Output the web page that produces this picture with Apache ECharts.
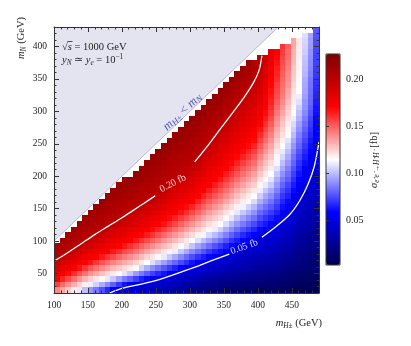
<!DOCTYPE html>
<html>
<head>
<meta charset="utf-8">
<script src="https://cdn.jsdelivr.net/npm/echarts@6/dist/echarts.min.js"></script>
<style>
  html, body { margin: 0; padding: 0; background: #fff; }
  #chart { width: 411px; height: 346px; }
</style>
</head>
<body>
<div id="chart"></div>
<script>
// scan grid: m_H+ 100..490 GeV in 47 columns, m_N 20..430 GeV in 48 rows
const mHMin = 100, mHMax = 490, mHCells = 47
const mNMin = 20, mNMax = 430, mNCells = 48

// sigma(e+e- -> H+H-) in 1e-3 fb, one list per m_H+ column, lowest m_N row first
const sigmaByColumn = [
  [142,157,171,179,187,195,202,205,209],
  [134,148,163,174,182,190,198,203,207,210],
  [126,140,155,169,177,185,193,200,204,208,211],
  [119,133,147,161,173,181,188,196,202,205,209,212],
  [110,125,139,153,167,176,183,191,199,203,206,209,213],
  [101,118,132,146,159,171,179,186,194,201,204,207,210,214],
  [92,111,126,139,152,166,175,182,189,196,202,205,208,211,214],
  [85,105,121,134,146,159,171,178,185,192,199,203,206,209,212,215],
  [77,97,117,129,141,153,166,174,181,188,195,201,203,206,209,212,215],
  [68,89,110,124,136,148,160,171,177,184,190,197,201,204,207,210,212,215],
  [59,80,103,120,131,143,155,166,174,180,187,193,199,202,205,208,210,213,215],
  [49,71,94,116,127,138,149,161,171,177,183,189,195,201,203,206,208,211,214,216],
  [47,63,86,109,123,134,144,155,166,174,180,186,192,197,201,204,206,209,211,214,216],
  [45,57,80,102,119,130,140,151,161,171,177,182,188,194,199,202,205,208,211,213,216],
  [44,52,73,93,114,125,135,145,155,166,173,179,185,190,196,201,203,206,209,211,214,216],
  [42,49,66,86,105,120,130,140,150,160,170,176,181,187,192,198,201,204,206,209,212,214,216],
  [40,47,61,79,97,115,125,135,145,155,165,173,178,183,189,194,200,202,205,207,209,212,214,217],
  [39,46,56,73,90,108,121,130,140,150,160,169,175,180,186,191,196,201,203,205,208,210,212,214,217],
  [37,44,52,68,84,101,116,126,135,145,154,164,172,177,182,187,192,197,201,203,206,208,210,212,215,217],
  [35,42,49,63,78,94,110,121,130,139,148,158,167,173,178,183,188,193,198,201,204,206,208,210,212,215,217],
  [32,39,46,57,72,87,103,117,126,134,143,152,161,169,175,179,184,189,194,199,202,204,206,208,210,212,215,217],
  [30,37,44,51,66,81,96,111,121,130,138,147,156,164,171,176,181,185,190,195,200,202,204,206,208,210,213,215,217],
  [28,34,41,48,60,75,89,103,116,125,133,142,150,158,167,173,177,182,186,191,196,200,202,204,206,208,211,213,215,217],
  [25,32,39,46,55,69,82,96,109,120,128,136,144,153,161,169,174,178,183,187,192,196,200,202,204,207,209,211,213,215,217],
  [23,30,36,43,50,63,76,89,102,115,123,131,139,147,155,163,171,175,179,184,188,192,197,201,203,205,207,209,211,213,215,217],
  [20,27,34,41,47,58,70,83,95,108,118,126,133,141,149,156,164,171,175,179,183,187,192,196,200,202,204,206,208,211,213,215,217],
  [18,24,31,38,45,53,65,77,89,101,113,121,128,135,143,150,157,164,171,175,179,183,187,191,195,199,201,204,206,208,210,212,215,217],
  [17,23,30,36,43,49,60,71,83,95,106,117,123,130,137,144,151,158,165,171,175,179,182,186,190,194,197,201,203,205,208,210,212,214,217],
  [16,22,28,35,41,47,55,66,77,89,100,111,119,126,132,139,145,152,159,165,171,175,178,182,186,189,193,196,200,202,205,207,209,212,214,217],
  [15,21,27,33,38,44,51,62,72,83,94,105,115,122,128,134,141,147,153,159,166,171,175,178,182,185,188,192,195,199,202,204,207,209,212,214,217],
  [15,20,26,31,37,43,48,56,66,77,87,97,107,116,122,128,135,141,147,153,159,165,171,174,177,181,184,188,191,194,198,201,203,206,209,211,214,216],
  [14,19,24,30,35,40,45,51,61,70,80,90,99,109,117,123,129,135,141,147,153,159,165,170,174,177,180,183,187,190,193,196,200,202,205,208,210,213,215],
  [13,18,23,28,33,38,43,48,56,65,74,83,92,101,110,118,124,129,135,141,147,153,159,164,170,173,176,180,183,186,189,192,195,199,202,204,207,210,213,215],
  [12,17,22,27,32,36,41,46,51,60,68,77,86,94,103,112,119,124,130,136,141,147,152,158,164,169,173,176,179,182,185,188,191,194,197,200,203,206,209,211,214],
  [12,17,21,26,30,35,39,44,48,55,63,72,80,88,97,105,114,119,125,130,136,141,147,152,158,163,169,172,175,178,181,184,187,190,193,196,199,202,205,208,211,214],
  [11,16,20,24,29,33,37,42,46,51,59,67,75,83,91,99,107,115,120,126,131,136,142,147,152,158,163,169,172,175,178,181,184,187,190,192,195,198,201,202,204,206],
  [11,15,19,23,27,32,36,40,44,48,54,61,68,75,82,89,97,104,111,117,122,127,132,137,142,147,152,157,162,167,171,174,176,179,182,184,187,190,193,195,198,200,202],
  [11,15,19,23,27,31,35,38,42,46,50,57,64,70,77,83,90,96,103,110,116,120,125,129,133,138,142,147,151,156,160,165,169,172,174,176,179,181,184,186,188,191,193],
  [10,14,18,21,25,29,33,37,41,45,48,53,60,66,72,78,84,90,96,103,109,115,119,123,127,131,135,139,143,147,151,155,159,161,164,166,168,170,172,174,176,178,180,182],
  [10,14,17,21,25,28,32,36,39,43,47,50,55,61,66,71,76,81,87,92,97,102,108,113,117,120,124,127,131,134,138,141,145,148,151,154,156,158,161,163,165,167,170,172],
  [9,12,15,18,22,25,28,31,35,38,41,44,48,52,57,62,67,71,76,81,86,91,96,101,106,110,115,118,122,125,128,131,135,138,141,144,146,147,149,151,153,154,156,158,160],
  [8,11,14,17,20,23,27,30,33,36,39,42,46,49,53,57,61,66,70,74,79,83,87,92,96,100,105,109,114,117,119,122,125,127,130,133,135,138,140,141,143,145,147,148,150],
  [7,10,13,16,19,22,24,27,30,33,36,38,41,44,47,50,54,57,61,65,69,73,77,81,84,88,92,96,100,104,107,111,115,117,119,120,122,124,126,127,128,130,131,132,134,135],
  [6,9,11,14,17,19,22,24,27,29,32,34,37,40,42,45,47,50,53,57,60,63,67,70,74,77,81,84,87,91,94,98,101,104,108,111,115,116,116,117,118,118,119,119,120,120],
  [6,8,11,13,15,18,20,22,25,27,29,32,34,36,38,41,43,45,48,50,53,56,59,62,65,68,71,74,77,80,83,86,89,91,92,94,95,96,97,99,100,101,102,104,105,106,108],
  [5,7,9,11,14,16,18,20,22,24,26,29,31,33,35,37,39,41,44,46,48,50,52,55,57,60,62,64,67,69,72,74,77,79,81,82,83,84,85,87,88,89,90,91,93,94,95],
  [5,7,9,10,12,14,16,18,20,21,23,25,27,29,30,32,34,36,38,40,41,43,45,47,49,51,52,54,55,57,59,60,62,63,65,67,68,69,70,71,72,73,73,74,75,76,77,78]
]

// colour scale limits of the colour bar (fb)
const sigmaMin = 0.003, sigmaMax = 0.227

// tick values
const xMajorTicks = [100, 150, 200, 250, 300, 350, 400, 450]
const xMinorTicks = [110,120,130,140,160,170,180,190,210,220,230,240,260,270,280,290,310,320,330,340,360,370,380,390,410,420,430,440,460,470,480]
const yMajorTicks = [50, 100, 150, 200, 250, 300, 350, 400]
const yMinorTicks = [30,40,60,70,80,90,110,120,130,140,160,170,180,190,210,220,230,240,260,270,280,290,310,320,330,340,360,370,380,390,410,420]
const cbarTicks = [0.05, 0.10, 0.15, 0.20]

// contour lines as (m_H+, m_N), split where the labels sit
const contour020Low = [[100,69],[120,82],[140,96],[160,110],[180,123],[200,136],[216,147],[232,158],[249,170]]
const contour020High = [[307,222],[327,248],[347,276],[363,298],[380,322],[394,345],[402,364],[406,386]]
const contour005Low = [[182,20],[200,27],[230,34],[256,41],[300,57],[330,69],[358,80]]
const contour005High = [[406,106],[425,121],[447,141],[462,163],[474,188],[483,215],[490,253]]
// label anchors (m_H+, m_N) and text angle
const contourLabels = [
  {text: '0.20 fb', at: [275, 189], angle: 27},
  {text: '0.05 fb', at: [380, 91], angle: 20}
]
const forbiddenLabelAt = [289, 299]

const serif = 'Liberation Serif'
const ink = '#333'
const seismic = ['#00004d', '#0000ff', '#ffffff', '#ff0000', '#800000']

const dMH = (mHMax - mHMin) / mHCells
const dMN = (mNMax - mNMin) / mNCells
const cells = []
sigmaByColumn.forEach(function (col, i) {
  col.forEach(function (v, j) {
    cells.push([mHMin + (i + 0.5) * dMH, mNMin + (j + 0.5) * dMN, v / 1000])
  })
})

function mathRich(size) {
  const sub = size * 0.7
  return {
    i: {fontFamily: serif, fontStyle: 'italic', fontSize: size, lineHeight: size + 2},
    r: {fontFamily: serif, fontSize: size, lineHeight: size + 2},
    s: {fontFamily: serif, fontStyle: 'italic', fontSize: sub, lineHeight: sub - 1, verticalAlign: 'bottom'},
    p: {fontFamily: serif, fontSize: sub, lineHeight: sub - 1, verticalAlign: 'top'}
  }
}

function frameAxis(dim, position, ticks, tickLen, withLabels) {
  const ax = {
    gridIndex: 0, type: 'value', position: position, z: 10,
    min: dim === 'x' ? mHMin : mNMin,
    max: dim === 'x' ? mHMax : mNMax,
    axisLine: {show: tickLen > 3, onZero: false, lineStyle: {color: ink, width: 1}},
    axisTick: {show: true, inside: true, length: tickLen, customValues: ticks, lineStyle: {color: ink, width: 1}},
    axisLabel: {show: false},
    splitLine: {show: false}
  }
  if (withLabels) {
    ax.axisLabel = {show: true, customValues: ticks, margin: 7, color: '#222', fontFamily: serif, fontSize: 9.5}
  }
  return ax
}

const chart = echarts.init(document.getElementById('chart'), null, {renderer: 'canvas'})

chart.setOption({
  animation: false,
  backgroundColor: '#fff',
  grid: [
    {left: 54, top: 27, width: 265, height: 266, containLabel: false},
    {left: 326, top: 54, width: 14, height: 211, show: true, borderColor: ink, borderWidth: 1, backgroundColor: 'transparent', z: 10}
  ],
  xAxis: [
    frameAxis('x', 'bottom', xMajorTicks, 5, true),
    frameAxis('x', 'bottom', xMinorTicks, 2.5, false),
    frameAxis('x', 'top', xMajorTicks, 5, false),
    frameAxis('x', 'top', xMinorTicks, 2.5, false),
    {gridIndex: 1, type: 'value', show: false, min: 0, max: 1}
  ],
  yAxis: [
    frameAxis('y', 'left', yMajorTicks, 5, true),
    frameAxis('y', 'left', yMinorTicks, 2.5, false),
    frameAxis('y', 'right', yMajorTicks, 5, false),
    frameAxis('y', 'right', yMinorTicks, 2.5, false),
    {
      gridIndex: 1, type: 'value', position: 'right', min: sigmaMin, max: sigmaMax, z: 10,
      axisLine: {show: false},
      axisTick: {show: true, length: 3, customValues: cbarTicks, lineStyle: {color: ink}},
      axisLabel: {
        customValues: cbarTicks, margin: 6, color: '#222', fontFamily: serif, fontSize: 10,
        formatter: function (v) { return v.toFixed(2) }
      },
      splitLine: {show: false}
    }
  ],
  visualMap: {
    type: 'continuous', min: sigmaMin, max: sigmaMax, dimension: 2, seriesIndex: 0,
    calculable: false, orient: 'vertical', left: 326, top: 54, itemWidth: 14, itemHeight: 211,
    padding: 0, inRange: {color: seismic}, textStyle: {color: 'transparent'}
  },
  series: [
    {
      type: 'custom', coordinateSystem: 'cartesian2d', xAxisIndex: 0, yAxisIndex: 0,
      data: cells, encode: {x: 0, y: 1}, silent: true, z: 1,
      renderItem: function (params, api) {
        const x = api.value(0), y = api.value(1)
        const p0 = api.coord([x - dMH / 2, y - dMN / 2])
        const p1 = api.coord([x + dMH / 2, y + dMN / 2])
        const left = Math.round(p0[0]), right = Math.round(p1[0])
        const top = Math.round(p1[1]), bottom = Math.round(p0[1])
        return {
          type: 'rect',
          shape: {x: left, y: top, width: right - left, height: bottom - top},
          style: {fill: api.visual('color')}
        }
      }
    },
    {
      // region m_H+ < m_N
      type: 'custom', coordinateSystem: 'cartesian2d', xAxisIndex: 0, yAxisIndex: 0,
      data: [[mHMin, mNMax]], silent: true, z: 3,
      renderItem: function (params, api) {
        const a = api.coord([mHMin, mHMin])
        const b = api.coord([mNMax, mNMax])
        const c = api.coord([mHMin, mNMax])
        return {
          type: 'group',
          children: [
            {type: 'polygon', shape: {points: [a, b, c]}, style: {fill: '#e4e4f1'}},
            {type: 'line', shape: {x1: a[0], y1: a[1], x2: b[0], y2: b[1]}, style: {stroke: '#b6b6dc', lineWidth: 1}}
          ]
        }
      }
    },
    ...[contour020Low, contour020High, contour005Low, contour005High].map(function (pts) {
      return {
        type: 'line', xAxisIndex: 0, yAxisIndex: 0, data: pts, smooth: 0.3,
        symbol: 'none', silent: true, z: 4,
        lineStyle: {color: '#fff', width: 1.3}
      }
    }),
    {
      type: 'scatter', xAxisIndex: 0, yAxisIndex: 0, symbolSize: 0, silent: true, z: 5,
      data: contourLabels.map(function (l) {
        return {
          value: l.at,
          label: {
            show: true, position: 'inside', formatter: l.text, rotate: l.angle,
            color: '#fff', fontFamily: serif, fontSize: 10
          }
        }
      }).concat([{
        value: forbiddenLabelAt,
        label: {
          show: true, position: 'inside', rotate: 43.7, color: '#2f2fa8',
          formatter: '{i|m}{s|H±}{r| < }{i|m}{s|N}',
          rich: mathRich(12.5)
        }
      }])
    }
  ],
  graphic: {
    elements: [
      {
        type: 'text', x: 21, y: 38, rotation: Math.PI / 2, z: 100,
        style: {text: '{i|m}{s|N}{r| (GeV)}', rich: mathRich(10.5), fill: '#222', align: 'center', verticalAlign: 'middle'}
      },
      {
        type: 'text', x: 322, y: 323, z: 100,
        style: {text: '{i|m}{s|H±}{r| (GeV)}', rich: mathRich(10.5), fill: '#222', align: 'right', verticalAlign: 'middle'}
      },
      {
        type: 'text', x: 62, y: 47, z: 100,
        style: {text: '{r|√}{i|s}{r| = 1000 GeV}', rich: mathRich(10.5), fill: '#222', align: 'left', verticalAlign: 'middle'}
      },
      {
        // bar of the square root over s
        type: 'line', z: 100,
        shape: {x1: 67.5, y1: 41.5, x2: 72.5, y2: 41.5},
        style: {stroke: '#222', lineWidth: 0.8}
      },
      {
        type: 'text', x: 62, y: 60, z: 100,
        style: {text: '{i|y}{s|N}{r| ≃ }{i|y}{s|e}{r| = 10}{p|−1}', rich: mathRich(10.5), fill: '#222', align: 'left', verticalAlign: 'middle'}
      },
      {
        type: 'text', x: 374, y: 160, rotation: Math.PI / 2, z: 100,
        style: {text: '{i|σ}{s|e⁺e⁻→H⁺H⁻}{r| [fb]}', rich: mathRich(10.5), fill: '#222', align: 'center', verticalAlign: 'middle'}
      }
    ]
  }
})
</script>
</body>
</html>
